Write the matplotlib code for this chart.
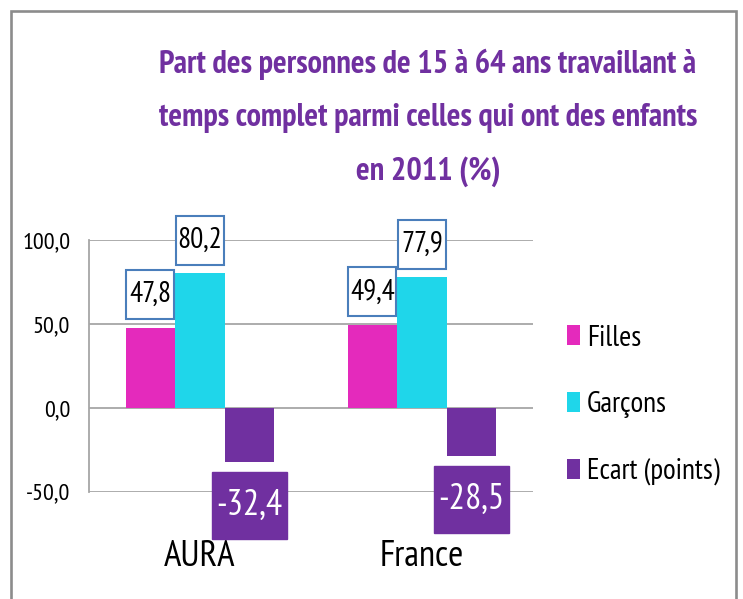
import matplotlib
matplotlib.use("Agg")
import matplotlib.pyplot as plt
from matplotlib.patches import Rectangle
from matplotlib.path import Path
import numpy as np

categories = ["AURA", "France"]
filles = [47.8, 49.4]
garcons = [80.2, 77.9]
ecart = [-32.4, -28.5]
series_names = ["Filles", "Garçons", "Ecart (points)"]
yticks = [-50, 0, 50, 100]
title = "Part des personnes de 15 à 64 ans travaillant à\ntemps complet parmi celles qui ont des enfants\nen 2011 (%)"

FONT = ["PT Sans Narrow", "DejaVu Sans"]
plt.rcParams["font.family"] = FONT

c_f = "#E42ABC"
c_g = "#1FD6EA"
c_e = "#7030A0"
c_box = "#4A7EBB"

W, H = 743, 599
fig = plt.figure(figsize=(W / 100, H / 100), dpi=100)
ax = fig.add_axes([89 / W, 1 - 491.7 / H, (533 - 89) / W, (491.7 - 240) / H])


def fixed_box(bw, bh):
    def style(x0, y0, width, height, mutation_size):
        cx, cy = x0 + width / 2, y0 + height / 2
        verts = [(cx - bw / 2, cy - bh / 2), (cx + bw / 2, cy - bh / 2),
                 (cx + bw / 2, cy + bh / 2), (cx - bw / 2, cy + bh / 2),
                 (cx - bw / 2, cy - bh / 2)]
        return Path(verts, closed=True)
    return style


x = np.arange(len(categories))
w = 0.223
b1 = ax.bar(x - w, filles, w, color=c_f, zorder=3)
b2 = ax.bar(x, garcons, w, color=c_g, zorder=3)
b3 = ax.bar(x + w, ecart, w, color=c_e, zorder=3)

ax.set_xlim(-0.5, 1.5)
ax.set_ylim(-50, 100)
ax.set_yticks(yticks)
ax.set_yticklabels([f"{v:.1f}".replace(".", ",") for v in yticks], fontsize=17.5)
ax.set_xticks(x)
ax.set_xticklabels(categories, fontsize=26.5)
ax.tick_params(axis="x", length=0, pad=35)
ax.tick_params(axis="y", length=0, pad=13.5)
ax.grid(axis="y", color="#A6A6A6", linewidth=1.3, zorder=0)
for s in ["top", "right", "bottom"]:
    ax.spines[s].set_visible(False)
ax.spines["left"].set_color("#A6A6A6")
ax.spines["left"].set_linewidth(1.3)


def fmt(v):
    return f"{v:.1f}".replace(".", ",")


for bars, vals in [(b1, filles), (b2, garcons)]:
    for r, v in zip(bars, vals):
        ax.annotate(fmt(v), (r.get_x() + r.get_width() / 2, v), xytext=(0, 23.8),
                    textcoords="offset points", ha="center", va="center", fontsize=21,
                    color="black", zorder=5, annotation_clip=False,
                    bbox=dict(boxstyle=fixed_box(48, 49), fc="white", ec=c_box, lw=1.5))
for r, v in zip(b3, ecart):
    ax.annotate(fmt(v), (r.get_x() + r.get_width() / 2, v), xytext=(0, -31.3),
                textcoords="offset points", ha="center", va="center", fontsize=26,
                color="white", zorder=5, annotation_clip=False,
                bbox=dict(boxstyle=fixed_box(75, 67), fc=c_e, ec=c_e, lw=1))

fig.text(428 / W, 1 - 118 / H, title, ha="center", va="center", fontsize=23.2,
         fontweight="bold", color=c_e, linespacing=2.0)

leg = fig.legend([b1, b2, b3], series_names, loc="center left",
                 bbox_to_anchor=(567 / W, 1 - 405 / H), frameon=False,
                 fontsize=21, handlelength=0.445, handleheight=0.685,
                 handletextpad=0.23, labelspacing=1.36, borderpad=0, borderaxespad=0)

fig.patches.append(Rectangle((11 / W, -0.05), (736 - 11) / W, 1.05 - 10.5 / H,
                             transform=fig.transFigure, fill=False,
                             ec="#8C8C8C", lw=1.9))

fig.savefig("out.png", dpi=100)
